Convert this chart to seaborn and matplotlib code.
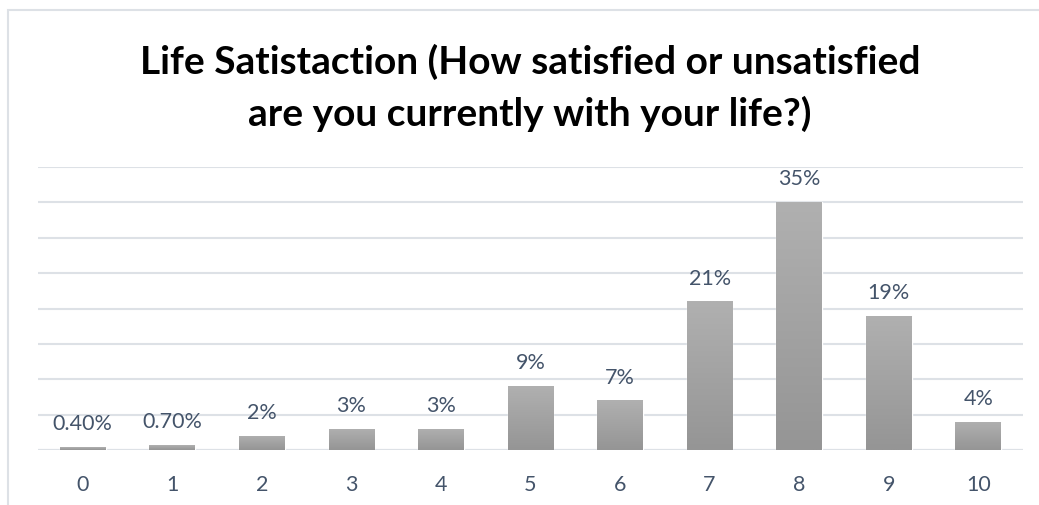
import numpy as np
import pandas as pd
import matplotlib.pyplot as plt
import seaborn as sns
from matplotlib.colors import LinearSegmentedColormap
from matplotlib.patches import Rectangle

sns.set_theme(style="white")
plt.rcParams['font.family'] = ['Lato', 'DejaVu Sans']

# Data
scores = ['0', '1', '2', '3', '4', '5', '6', '7', '8', '9', '10']
share_pct = [0.4, 0.7, 2, 3, 3, 9, 7, 21, 35, 19, 4]
share_labels = ['0.40%', '0.70%', '2%', '3%', '3%', '9%', '7%', '21%', '35%', '19%', '4%']
grid_ticks = [0, 5, 10, 15, 20, 25, 30, 35, 40]

TEXT_COLOR = '#44546A'
GRID_COLOR = '#DDE1E6'

df = pd.DataFrame({'Score': scores, 'Share': share_pct})

fig = plt.figure(figsize=(10.39, 5.06), dpi=100)
fig.patches.append(Rectangle((8 / 1039, -0.1), 1.2, 1 - 11 / 506 + 0.1,
                             transform=fig.transFigure, fill=False,
                             edgecolor='#DDE1E6', linewidth=1.5))
ax = fig.add_axes([38 / 1039, 1 - 451 / 506, 985 / 1039, 283 / 506])

sns.barplot(data=df, x='Score', y='Share', color='#A0A0A0', width=0.51,
            saturation=1, ax=ax, zorder=2)

# Excel-like vertical gradient on each bar
grad = LinearSegmentedColormap.from_list('g', ['#959595', '#B0B0B0'])
for p in ax.patches:
    x0, y0, w, h = p.get_x(), p.get_y(), p.get_width(), p.get_height()
    im = ax.imshow(np.linspace(0, 1, 100).reshape(-1, 1), cmap=grad, origin='lower',
                   extent=[x0, x0 + w, y0, y0 + h], aspect='auto', zorder=3)
    im.set_clip_path(p)

ax.set_xlim(-0.5, len(scores) - 0.5)
ax.set_ylim(0, 40)
ax.set_yticks(grid_ticks)
ax.set_yticklabels([])
ax.tick_params(axis='y', length=0)
ax.grid(axis='y', color=GRID_COLOR, linewidth=1.5, zorder=0)
ax.set_axisbelow(True)
for s in ax.spines.values():
    s.set_visible(False)
ax.axhline(0, color=GRID_COLOR, linewidth=1.5, zorder=1)

ax.set_xlabel('')
ax.set_ylabel('')
ax.tick_params(axis='x', length=0, pad=17, labelsize=15.5, labelcolor=TEXT_COLOR)

for i, (v, lab) in enumerate(zip(share_pct, share_labels)):
    ax.annotate(lab, (i, v), xytext=(0, 10), textcoords='offset points',
                ha='center', va='bottom', fontsize=15.5, color=TEXT_COLOR)

fig.text(530 / 1039, 1 - 88 / 506,
         'Life Satistaction (How satisfied or unsatisfied\nare you currently with your life?)',
         ha='center', va='center', fontsize=28, fontweight='bold', color='black',
         linespacing=1.5)

fig.savefig('out.png', dpi=100)
